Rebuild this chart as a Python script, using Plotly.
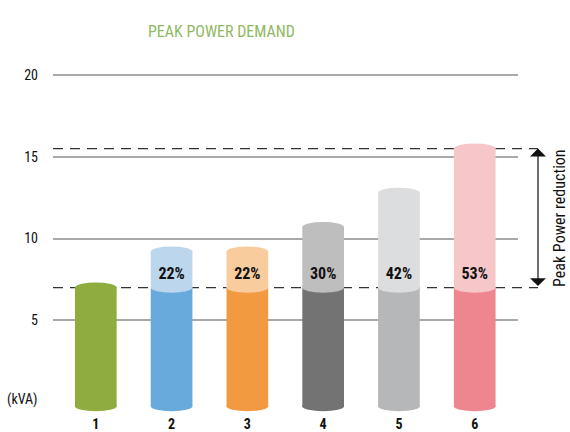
import plotly.graph_objects as go

# ---- data ----
categories = ["1", "2", "3", "4", "5", "6"]
positions = [1, 2, 3, 4, 5, 6]
peak_kva = [7.0, 9.2, 9.2, 10.7, 12.8, 15.5]
reduced_peak = 7.0
reduction_labels = ["", "22%", "22%", "30%", "42%", "53%"]
y_ticks = [5, 10, 15, 20]
dark_colors = ["#8fad3e", "#67aadb", "#f29a42", "#737373", "#b6b7b9", "#ee8690"]
light_colors = ["#8fad3e", "#bcd6ee", "#f8cc9c", "#bebebe", "#dcdddf", "#f6c6c8"]

FONT = "Liberation Sans Narrow, Roboto Condensed, Liberation Sans, Arial Narrow, sans-serif"
BAR_W = 0.55
ELL = 0.31        # half-height of cylinder ellipse, in axis units
FOOT = -0.25      # cylinder foot drawn slightly below the axis zero (visual depth)

lower = [min(p, reduced_peak) for p in peak_kva]
upper = [max(p - reduced_peak, 0) for p in peak_kva]

fig = go.Figure()
fig.add_trace(go.Bar(x=positions, y=[v - FOOT for v in lower], base=FOOT, width=BAR_W,
                     marker=dict(color=dark_colors, line=dict(width=0)),
                     hoverinfo="skip", showlegend=False))
fig.add_trace(go.Bar(x=positions, y=upper, base=lower, width=BAR_W,
                     marker=dict(color=light_colors, line=dict(width=0)),
                     hoverinfo="skip", showlegend=False))

shapes = []
def ellipse(xc, yc, color):
    return dict(type="circle", xref="x", yref="y", layer="above",
                x0=xc - BAR_W / 2, x1=xc + BAR_W / 2, y0=yc - ELL, y1=yc + ELL,
                fillcolor=color, line=dict(width=0))

for i, xc in enumerate(positions):
    shapes.append(ellipse(xc, FOOT, dark_colors[i]))
    if upper[i] > 0:
        shapes.append(ellipse(xc, lower[i], light_colors[i]))
        shapes.append(ellipse(xc, peak_kva[i], light_colors[i]))
    else:
        shapes.append(ellipse(xc, lower[i], dark_colors[i]))

# dashed reference lines (reduced peak and max peak)
for yv in [reduced_peak, max(peak_kva)]:
    shapes.append(dict(type="line", xref="paper", yref="y", layer="below",
                       x0=0, x1=1.043, y0=yv, y1=yv,
                       line=dict(color="#333333", width=1.3, dash="10px,7px")))

fig.add_trace(go.Scatter(x=positions, y=[7.8] * 6, mode="text",
                         text=reduction_labels,
                         textfont=dict(family=FONT, size=16, color="#111111", weight="bold"),
                         hoverinfo="skip", showlegend=False))

annotations = [
    dict(text="PEAK POWER DEMAND", xref="paper", yref="paper", x=0.3634, y=1.097,
         xanchor="center", showarrow=False, font=dict(family=FONT, size=16, color="#90b85f")),
    dict(text="(kVA)", xref="paper", yref="y", x=-0.028, y=0.15, xanchor="right",
         showarrow=False, font=dict(family=FONT, size=14, color="#111111")),
    dict(text="Peak Power reduction", xref="paper", yref="y", x=1.0903, y=11.26,
         xanchor="center", yanchor="middle",
         textangle=-90, showarrow=False, font=dict(family=FONT, size=16, color="#111111")),
    dict(text="", xref="paper", yref="y", x=1.043, y=max(peak_kva), ax=0, ayref="y",
         ay=reduced_peak, showarrow=True, arrowhead=1, startarrowhead=1,
         arrowside="end+start", arrowsize=2.2, startarrowsize=2.2, arrowwidth=1.2,
         arrowcolor="#111111"),
]

fig.update_layout(
    width=570, height=432,
    margin=dict(l=53, r=52, t=55, b=18, autoexpand=False),
    paper_bgcolor="white", plot_bgcolor="rgba(0,0,0,0)",
    barmode="overlay",
    shapes=shapes, annotations=annotations,
    xaxis=dict(range=[0.4354, 6.571], tickvals=positions, ticktext=categories,
               automargin=False,
               showgrid=False, zeroline=False, showline=False, ticks="",
               tickfont=dict(family=FONT, size=14, color="#111111", weight="bold")),
    yaxis=dict(range=[-0.728, 21.224], tickvals=y_ticks, automargin=False,
               showgrid=True, gridcolor="#a9a9a9", gridwidth=2,
               zeroline=False, showline=False, ticks="", ticklabelstandoff=14,
               tickfont=dict(family=FONT, size=14, color="#111111")),
)

fig.write_html("out.html", config={"displayModeBar": False},
               post_script="document.body.style.margin='0';document.body.style.padding='0';document.body.style.overflow='hidden';")
